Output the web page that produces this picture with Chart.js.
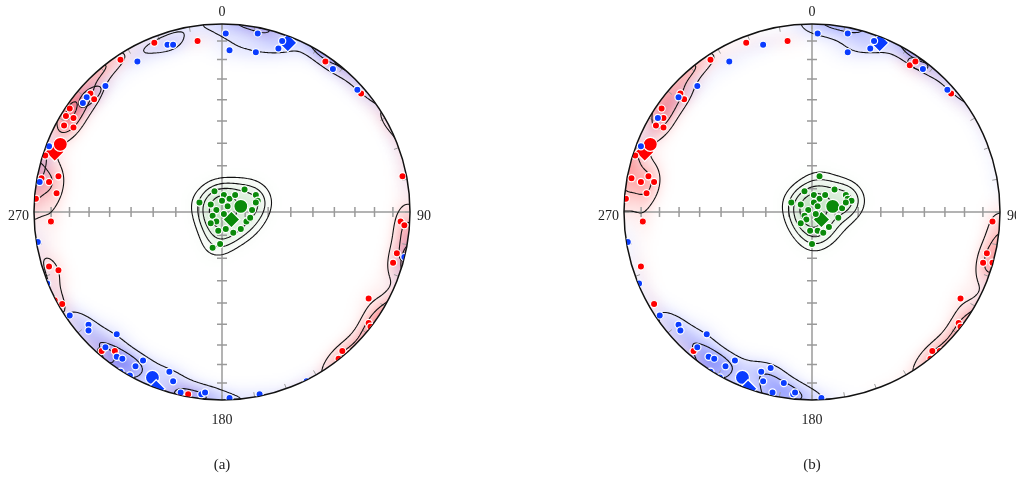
<!DOCTYPE html>
<html>
<head>
<meta charset="utf-8">
<script src="https://cdn.jsdelivr.net/npm/chart.js@4"></script>
<style>
  body { margin: 0; background: #fff; }
  #wrap { position: relative; width: 1016px; height: 480px; }
  canvas { position: absolute; top: 0; }
</style>
</head>
<body>
<div id="wrap">
  <canvas id="netA" width="508" height="480" style="left:0"></canvas>
  <canvas id="netB" width="508" height="480" style="left:508px"></canvas>
</div>
<script>
// positions on the equal-area net (lower hemisphere), unit = primitive circle radius
const redA = [[-0.36,0.90],[-0.13,0.91],[-0.54,0.81],[-0.70,0.63],[-0.68,0.60],[-0.81,0.55],[-0.83,0.51],[-0.79,0.50],[-0.84,0.46],[-0.79,0.45],[-0.94,0.30],[-0.96,0.18],[-0.92,0.16],[-0.87,0.19],[-0.88,0.10],[-0.99,0.07],[-0.91,-0.05],[-0.92,-0.29],[-0.87,-0.31],[-0.89,-0.47],[-0.85,-0.49],[-0.64,-0.74],[-0.57,-0.74],[-0.22,-0.97],[-0.18,-0.97],[0.55,0.80],[0.74,0.63],[0.96,0.19],[0.95,-0.05],[0.97,-0.07],[0.93,-0.22],[0.91,-0.27],[0.78,-0.46],[0.78,-0.59],[0.79,-0.61],[0.64,-0.74],[0.68,-0.75],[0.62,-0.78]];
const blueA = [[-0.29,0.89],[-0.26,0.89],[-0.45,0.80],[-0.62,0.67],[-0.72,0.61],[-0.74,0.58],[-0.92,0.35],[-0.97,0.16],[0.02,0.95],[0.04,0.86],[0.19,0.95],[0.18,0.85],[0.30,0.87],[0.32,0.91],[0.59,0.76],[0.72,0.65],[0.97,-0.24],[0.45,-0.90],[0.20,-0.97],[0.04,-0.99],[-0.98,-0.16],[-0.93,-0.38],[-0.81,-0.55],[-0.71,-0.60],[-0.71,-0.63],[-0.56,-0.65],[-0.62,-0.72],[-0.56,-0.77],[-0.53,-0.78],[-0.42,-0.79],[-0.46,-0.82],[-0.54,-0.85],[-0.49,-0.87],[-0.28,-0.85],[-0.26,-0.90],[-0.22,-0.96],[-0.11,-0.97],[-0.09,-0.96]];
const greenA = [[-0.12,0.05],[-0.04,0.11],[0.01,0.09],[0.04,0.07],[0.07,0.09],[0.12,0.12],[0.18,0.09],[0.19,0.06],[-0.06,0.04],[-0.03,0.01],[0.00,0.06],[0.03,0.03],[0.01,-0.01],[-0.05,-0.02],[-0.03,-0.05],[-0.06,-0.06],[-0.02,-0.10],[0.02,-0.09],[0.06,-0.11],[0.10,-0.09],[0.13,-0.05],[0.16,0.01],[0.15,-0.03],[0.18,0.05],[-0.05,-0.19],[-0.01,-0.17]];
const meanCircleA = { red: [[-0.86,0.36]], blue: [[-0.37,-0.88]], green: [[0.10,0.03]] };
const meanDiamondA = { red: [[-0.89,0.32]], blue: [[0.35,0.90],[-0.35,-0.94]], green: [[0.05,-0.04]] };

const redB = [[-0.35,0.90],[-0.13,0.91],[-0.54,0.81],[-0.70,0.63],[-0.68,0.60],[-0.80,0.55],[-0.79,0.50],[-0.83,0.46],[-0.79,0.45],[-0.94,0.30],[-0.96,0.18],[-0.91,0.16],[-0.87,0.19],[-0.84,0.16],[-0.88,0.10],[-0.99,0.07],[-0.90,-0.05],[-0.91,-0.29],[-0.84,-0.49],[-0.63,-0.74],[0.52,0.78],[0.55,0.80],[0.74,0.63],[0.96,-0.05],[0.93,-0.22],[0.91,-0.27],[0.96,-0.27],[0.79,-0.46],[0.78,-0.59],[0.79,-0.61],[0.64,-0.74],[0.68,-0.74],[0.63,-0.78]];
const blueB = [[-0.26,0.89],[-0.44,0.80],[-0.61,0.67],[-0.71,0.61],[-0.82,0.50],[-0.91,0.35],[0.03,0.95],[0.19,0.95],[0.19,0.85],[0.31,0.87],[0.33,0.91],[0.59,0.76],[0.72,0.65],[0.05,-0.99],[-0.98,-0.16],[-0.92,-0.38],[-0.81,-0.55],[-0.71,-0.60],[-0.70,-0.63],[-0.56,-0.65],[-0.61,-0.72],[-0.55,-0.77],[-0.52,-0.78],[-0.41,-0.79],[-0.46,-0.82],[-0.54,-0.85],[-0.49,-0.88],[-0.27,-0.85],[-0.22,-0.83],[-0.26,-0.90],[-0.15,-0.91],[-0.21,-0.96],[-0.10,-0.97],[-0.09,-0.96]];
const greenB = [[0.04,0.19],[-0.11,0.05],[-0.04,0.11],[-0.06,0.04],[0.01,0.09],[0.04,0.07],[0.07,0.09],[0.12,0.12],[0.18,0.09],[0.19,0.07],[0.21,0.06],[0.01,0.05],[-0.02,0.01],[0.03,0.03],[0.02,-0.01],[-0.04,-0.02],[-0.03,-0.04],[-0.06,-0.06],[-0.01,-0.10],[0.03,-0.10],[0.06,-0.11],[0.09,-0.08],[0.14,-0.03],[0.16,0.02],[0.18,0.05],[0.00,-0.17]];
const meanCircleB = { red: [[-0.86,0.36]], blue: [[-0.37,-0.88]], green: [[0.11,0.03]] };
const meanDiamondB = { red: [[-0.89,0.32]], blue: [[0.36,0.90],[-0.34,-0.94]], green: [[0.05,-0.04]] };

const dirLabels = ["0", "90", "180", "270"];
const captions = ["(a)", "(b)"];
const plungeTicks = [10, 20, 30, 40, 50, 60, 70, 80];
const contourLevels = [1.9, 3.4, 5, 7];

const RED = "#ff0000", BLUE = "#0a3cff", GREEN = "#0a8a0a";
const KAPPA = 110;

// equal-area position -> unit vector (axial)
function toVec(x, y) {
  const r = Math.hypot(x, y);
  if (r < 1e-9) return [0, 0, 1];
  const t = 2 * Math.asin(Math.min(r / Math.SQRT2, 1));
  const s = Math.sin(t) / r;
  return [x * s, y * s, Math.cos(t)];
}

function contour(ctx, grid, nx, ny, level, x0, y0, step) {
  ctx.beginPath();
  const seg = (p, q) => { ctx.moveTo(p[0], p[1]); ctx.lineTo(q[0], q[1]); };
  for (let j = 0; j < ny - 1; j++) {
    for (let i = 0; i < nx - 1; i++) {
      const a = grid[j * nx + i], b = grid[j * nx + i + 1];
      const c = grid[(j + 1) * nx + i + 1], d = grid[(j + 1) * nx + i];
      const code = (a > level ? 8 : 0) | (b > level ? 4 : 0) | (c > level ? 2 : 0) | (d > level ? 1 : 0);
      if (code === 0 || code === 15) continue;
      const px = x0 + i * step, py = y0 + j * step;
      const T = [px + step * (level - a) / (b - a), py];
      const Rt = [px + step, py + step * (level - b) / (c - b)];
      const B = [px + step * (level - d) / (c - d), py + step];
      const L = [px, py + step * (level - a) / (d - a)];
      switch (code) {
        case 1: case 14: seg(L, B); break;
        case 2: case 13: seg(B, Rt); break;
        case 3: case 12: seg(L, Rt); break;
        case 4: case 11: seg(T, Rt); break;
        case 5: seg(L, T); seg(B, Rt); break;
        case 6: case 9: seg(T, B); break;
        case 7: case 8: seg(L, T); break;
        case 10: seg(L, B); seg(T, Rt); break;
      }
    }
  }
  ctx.stroke();
}

function netPlugin(groups, caption) {
  return {
    id: "stereonet",
    beforeDatasetsDraw(chart) {
      const ctx = chart.ctx, sx = chart.scales.x, sy = chart.scales.y;
      const cx = sx.getPixelForValue(0), cy = sy.getPixelForValue(0);
      const R = sx.getPixelForValue(1) - cx;
      const step = 1.5, pad = 6;
      const x0 = cx - R - pad, y0 = cy - R - pad;
      const nx = Math.ceil((2 * R + 2 * pad) / step) + 1, ny = nx;

      ctx.save();
      ctx.beginPath();
      ctx.arc(cx, cy, R, 0, 2 * Math.PI);
      ctx.clip();

      const grids = groups.map(g => {
        const vecs = g.points.map(p => toVec(p[0], p[1]));
        const grid = new Float32Array(nx * ny);
        for (let j = 0; j < ny; j++) {
          const vy = sy.getValueForPixel(y0 + j * step);
          for (let i = 0; i < nx; i++) {
            const v = toVec(sx.getValueForPixel(x0 + i * step), vy);
            let s = 0;
            for (const w of vecs) {
              const dot = Math.abs(v[0] * w[0] + v[1] * w[1] + v[2] * w[2]);
              s += Math.exp(KAPPA * (dot - 1));
            }
            grid[j * nx + i] = s;
          }
        }
        const off = document.createElement("canvas");
        off.width = nx; off.height = ny;
        const octx = off.getContext("2d");
        const img = octx.createImageData(nx, ny);
        for (let k = 0; k < nx * ny; k++) {
          const a = g.alpha * Math.pow(Math.min(1, grid[k] / g.sat), 1.6);
          img.data[4 * k] = g.rgb[0];
          img.data[4 * k + 1] = g.rgb[1];
          img.data[4 * k + 2] = g.rgb[2];
          img.data[4 * k + 3] = Math.round(a * 255);
        }
        octx.putImageData(img, 0, 0);
        ctx.imageSmoothingEnabled = true;
        ctx.drawImage(off, x0 - step / 2, y0 - step / 2, nx * step, ny * step);
        return grid;
      });

      // cross with plunge ticks
      ctx.strokeStyle = "#9a9a9a";
      ctx.lineWidth = 1.5;
      ctx.beginPath();
      ctx.moveTo(cx - R, cy); ctx.lineTo(cx + R, cy);
      ctx.moveTo(cx, cy - R); ctx.lineTo(cx, cy + R);
      plungeTicks.forEach(p => {
        const r = Math.SQRT2 * Math.sin((90 - p) / 2 * Math.PI / 180) * R;
        [-1, 1].forEach(sg => {
          ctx.moveTo(cx + sg * r, cy - 5); ctx.lineTo(cx + sg * r, cy + 5);
          ctx.moveTo(cx - 5, cy + sg * r); ctx.lineTo(cx + 5, cy + sg * r);
        });
      });
      ctx.stroke();

      // azimuth ticks on the primitive
      ctx.lineWidth = 1;
      ctx.beginPath();
      for (let az = 0; az < 360; az += 10) {
        const t = az * Math.PI / 180;
        ctx.moveTo(cx + Math.sin(t) * R, cy - Math.cos(t) * R);
        ctx.lineTo(cx + Math.sin(t) * (R - 5), cy - Math.cos(t) * (R - 5));
      }
      ctx.stroke();

      // density contours
      ctx.strokeStyle = "#111";
      ctx.lineWidth = 1.1;
      grids.forEach(grid => contourLevels.forEach(l => contour(ctx, grid, nx, ny, l, x0, y0, step)));
      ctx.restore();

      ctx.strokeStyle = "#111";
      ctx.lineWidth = 1.5;
      ctx.beginPath();
      ctx.arc(cx, cy, R, 0, 2 * Math.PI);
      ctx.stroke();

      ctx.save();
      ctx.beginPath();
      ctx.arc(cx, cy, R - 0.5, 0, 2 * Math.PI);
      ctx.clip();
    },
    afterDatasetsDraw(chart) {
      const ctx = chart.ctx, sx = chart.scales.x, sy = chart.scales.y;
      ctx.restore();
      const cx = sx.getPixelForValue(0), cy = sy.getPixelForValue(0);
      const R = sx.getPixelForValue(1) - cx;
      ctx.save();
      ctx.fillStyle = "#222";
      ctx.font = '14px "Liberation Serif", "Times New Roman", serif';
      ctx.textBaseline = "middle";
      ctx.textAlign = "center";
      ctx.fillText(dirLabels[0], cx, cy - R - 12);
      ctx.fillText(dirLabels[2], cx, cy + R + 20);
      ctx.textAlign = "left";
      ctx.fillText(dirLabels[1], cx + R + 7, cy + 4);
      ctx.textAlign = "right";
      ctx.fillText(dirLabels[3], cx - R - 5, cy + 4);
      ctx.textAlign = "center";
      ctx.font = '15px "Liberation Serif", "Times New Roman", serif';
      ctx.fillText(caption, cx, 465);
      ctx.restore();
    }
  };
}

function pts(arr) { return arr.map(p => ({ x: p[0], y: p[1] })); }

function dots(arr, color, style, radius) {
  return {
    data: pts(arr),
    pointStyle: style,
    pointRadius: radius,
    pointHoverRadius: radius,
    backgroundColor: color,
    borderColor: "#ffffff",
    borderWidth: 1.2,
    showLine: false
  };
}

function makeNet(id, red, blue, green, circ, diam, caption, padding) {
  const groups = [
    { points: red, rgb: [255, 0, 0], alpha: 0.6, sat: 6 },
    { points: blue, rgb: [20, 40, 255], alpha: 0.8, sat: 6.5 },
    { points: green, rgb: [0, 130, 0], alpha: 0.3, sat: 10 }
  ];
  new Chart(id, {
    type: "scatter",
    data: {
      datasets: [
        dots(blue, BLUE, "circle", 3.6),
        dots(red, RED, "circle", 3.6),
        dots(green, GREEN, "circle", 3.6),
        dots(diam.blue, BLUE, "rectRot", 9),
        dots(circ.blue, BLUE, "circle", 7),
        dots(circ.red, RED, "circle", 7),
        dots(diam.red, RED, "rectRot", 9.5),
        dots(circ.green, GREEN, "circle", 7),
        dots(diam.green, GREEN, "rectRot", 8.5)
      ]
    },
    options: {
      responsive: false,
      animation: false,
      devicePixelRatio: 1,
      events: [],
      layout: { padding: padding },
      scales: {
        x: { type: "linear", min: -1, max: 1, display: false },
        y: { type: "linear", min: -1, max: 1, display: false }
      },
      plugins: { legend: { display: false }, tooltip: { enabled: false } }
    },
    plugins: [netPlugin(groups, caption)]
  });
}

makeNet("netA", redA, blueA, greenA, meanCircleA, meanDiamondA, captions[0],
  { left: 34, right: 98, top: 24, bottom: 80 });
makeNet("netB", redB, blueB, greenB, meanCircleB, meanDiamondB, captions[1],
  { left: 116, right: 16, top: 24, bottom: 80 });
</script>
</body>
</html>
